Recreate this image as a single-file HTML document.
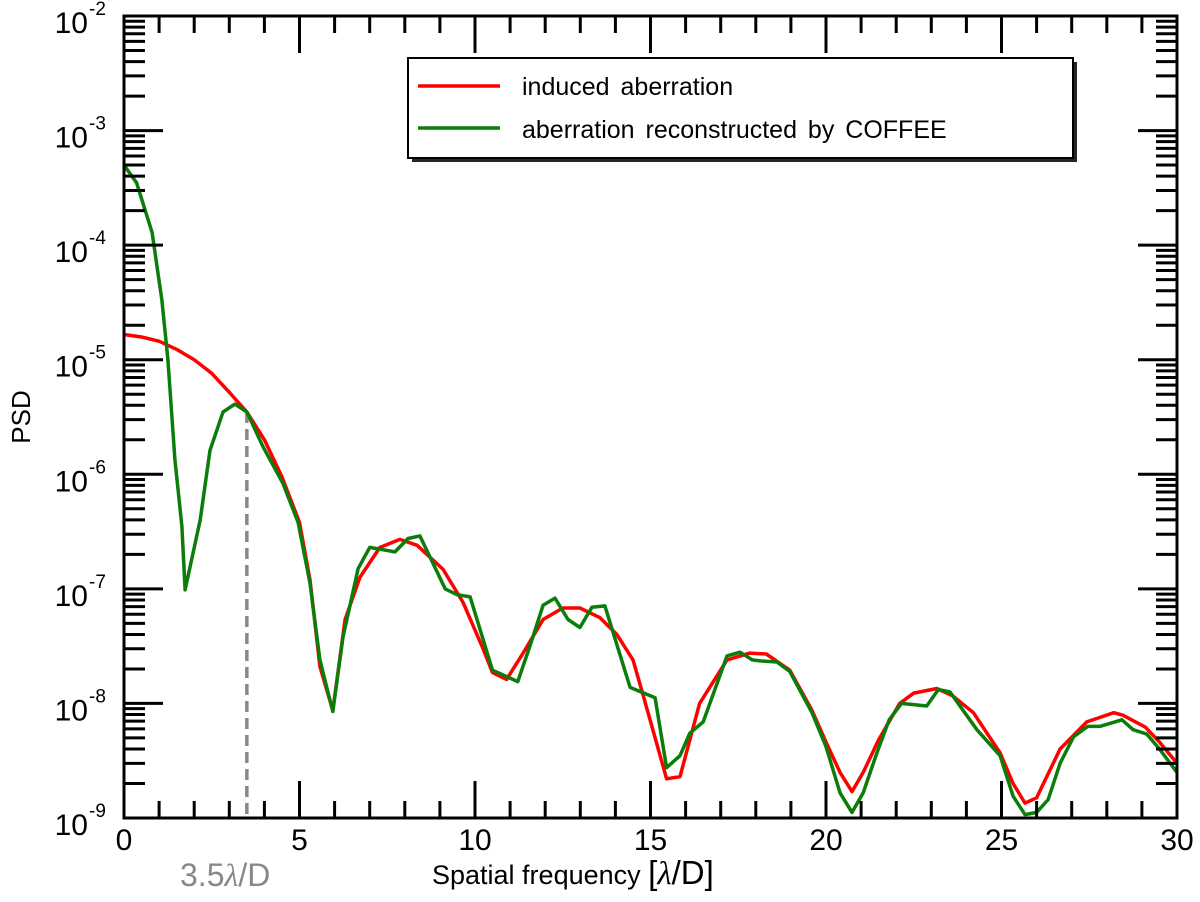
<!DOCTYPE html>
<html><head><meta charset="utf-8"><style>
html,body{margin:0;padding:0;background:#fff;}
svg{display:block;font-family:"Liberation Sans",sans-serif;}
</style></head><body>
<svg id="chart" width="1200" height="902" viewBox="0 0 1200 902" xmlns="http://www.w3.org/2000/svg">
<rect width="1200" height="902" fill="#fff"/>
<g id="marks"></g>
<g id="axes"></g>
<g id="legend">
  <rect x="412" y="62" width="665" height="100" fill="#000" opacity="0.85"/>
  <rect x="408" y="58" width="665" height="100" fill="#fff" stroke="#000" stroke-width="2"/>
  <line x1="418" y1="86" x2="500" y2="86" stroke="#ff0000" stroke-width="3.5"/>
  <text x="522" y="95" font-size="25" word-spacing="4">induced aberration</text>
  <line x1="418" y1="128" x2="500" y2="128" stroke="#0a7d0a" stroke-width="3.5"/>
  <text x="522" y="138" font-size="25" word-spacing="4">aberration reconstructed by COFFEE</text>
</g>
<text transform="translate(30,417) rotate(-90)" text-anchor="middle" font-size="26">PSD</text>
<text x="432" y="884" font-size="27">Spatial frequency <tspan font-size="33">[</tspan><tspan font-family="Liberation Serif, serif" font-style="italic" font-size="33">λ</tspan><tspan font-size="33">/D]</tspan></text>
<text x="180" y="886" font-size="32" fill="#888">3.5<tspan font-family="Liberation Serif, serif" font-style="italic">λ</tspan>/D</text>
</svg>
<script>
const redFreq = [0,0.5,1.0,1.5,2.0,2.5,3.0,3.5,4.0,4.5,5.0,5.3,5.58,5.95,6.3,6.72,7.29,7.86,8.35,9.09,9.66,10.23,10.5,10.9,11.37,11.94,12.5,12.99,13.56,14.04,14.5,14.8,15.46,15.84,16.4,17.18,17.83,18.3,18.97,19.6,20.0,20.4,20.74,21.06,21.5,22.1,22.5,23.16,23.6,24.2,24.96,25.33,25.67,26.0,26.67,27.43,28.2,28.46,29.1,29.5,30];
const redPsd = [1.66e-5,1.58e-5,1.45e-5,1.23e-5,1.0e-5,7.6e-6,5.2e-6,3.5e-6,2.0e-6,9.5e-7,3.8e-7,1.2e-7,2.1e-8,8.7e-9,5.4e-8,1.26e-7,2.3e-7,2.7e-7,2.4e-7,1.48e-7,7.6e-8,3.0e-8,1.86e-8,1.62e-8,2.75e-8,5.4e-8,6.8e-8,6.8e-8,5.6e-8,4.0e-8,2.4e-8,1.15e-8,2.2e-9,2.3e-9,1.0e-8,2.4e-8,2.75e-8,2.7e-8,1.95e-8,8.7e-9,4.6e-9,2.5e-9,1.7e-9,2.5e-9,4.8e-9,1.0e-8,1.23e-8,1.35e-8,1.17e-8,8.3e-9,3.7e-9,2.0e-9,1.35e-9,1.5e-9,4.0e-9,6.9e-9,8.3e-9,7.9e-9,6.2e-9,4.6e-9,3.0e-9];
const greenFreq = [0,0.36,0.8,1.08,1.25,1.45,1.65,1.74,2.17,2.45,2.82,3.16,3.5,3.96,4.53,4.96,5.3,5.58,5.95,6.24,6.67,7.0,7.72,8.09,8.43,9.15,9.49,9.86,10.5,11.22,11.57,11.94,12.28,12.65,12.99,13.33,13.7,14.42,15.13,15.46,15.84,16.12,16.5,17.18,17.55,17.9,18.12,18.6,18.97,19.6,20.0,20.4,20.74,21.06,21.45,21.8,22.15,22.87,23.2,23.53,24.3,24.96,25.33,25.67,26.0,26.33,26.67,27.05,27.46,27.8,28.43,28.75,29.14,29.5,30];
const greenPsd = [5.0e-4,3.5e-4,1.29e-4,3.3e-5,1.0e-5,1.35e-6,3.5e-7,9.8e-8,4.0e-7,1.62e-6,3.5e-6,4.1e-6,3.5e-6,1.74e-6,8.3e-7,3.8e-7,1.12e-7,2.4e-8,8.5e-9,3.8e-8,1.5e-7,2.3e-7,2.1e-7,2.75e-7,2.9e-7,1.0e-7,8.9e-8,8.5e-8,1.95e-8,1.55e-8,3.2e-8,7.2e-8,8.3e-8,5.4e-8,4.6e-8,6.9e-8,7.1e-8,1.38e-8,1.12e-8,2.75e-9,3.5e-9,5.5e-9,6.9e-9,2.6e-8,2.8e-8,2.4e-8,2.35e-8,2.3e-8,1.9e-8,8.3e-9,4.2e-9,1.66e-9,1.12e-9,1.66e-9,3.7e-9,7.2e-9,1.0e-8,9.5e-9,1.32e-8,1.26e-8,5.9e-9,3.5e-9,1.55e-9,1.07e-9,1.12e-9,1.45e-9,3.0e-9,5.1e-9,6.3e-9,6.3e-9,7.2e-9,5.9e-9,5.4e-9,4.0e-9,2.5e-9];
const xTicks = [0,5,10,15,20,25,30];
const yDecades = [-2,-3,-4,-5,-6,-7,-8,-9];
const cutoffFreq = [3.5];

const X0=124, X1=1177, Y0=818, Y1=16;
const xMin=0, xMax=30, yMinExp=-9, yMaxExp=-2;
function xs(v){return X0+(v-xMin)/(xMax-xMin)*(X1-X0);}
function ys(v){return Y0-(Math.log10(v)-yMinExp)/(yMaxExp-yMinExp)*(Y0-Y1);}
const NS="http://www.w3.org/2000/svg";
function mk(tag,attrs,parent){const e=document.createElementNS(NS,tag);for(const k in attrs)e.setAttribute(k,attrs[k]);parent.appendChild(e);return e;}
const marks=document.getElementById('marks'), axes=document.getElementById('axes');

function clipY(y){return Math.min(Y0,Math.max(Y1,y));}
cutoffFreq.forEach(f=>{
  let yv=0; for(let i=0;i<redFreq.length-1;i++){if(f>=redFreq[i]&&f<=redFreq[i+1]){const t=(f-redFreq[i])/(redFreq[i+1]-redFreq[i]);yv=ys(redPsd[i])*(1-t)+ys(redPsd[i+1])*t;}}
  const l=mk('line',{x1:xs(f),x2:xs(f),y1:yv,y2:Y0,stroke:'#888','stroke-width':3.5,'stroke-dasharray':'11,6'},marks);
  
  
});
function series(fx,fy,color,name){
  const pts=fx.map((f,i)=>xs(f).toFixed(1)+','+clipY(ys(fy[i])).toFixed(1)).join(' ');
  const p=mk('polyline',{points:pts,fill:'none',stroke:color,'stroke-width':3.5,'stroke-linejoin':'round'},marks);
  
  
}
series(redFreq,redPsd,'#ff0000','induced-aberration-line');
series(greenFreq,greenPsd,'#0a7d0a','coffee-reconstruction-line');

const fr=mk('rect',{x:X0,y:Y1,width:X1-X0,height:Y0-Y1,fill:'none',stroke:'#000','stroke-width':3},axes);


for(let v=xMin; v<=xMax; v++){
  const major=(v%5===0), L=major?37:17, x=xs(v);
  mk('line',{x1:x,x2:x,y1:Y0,y2:Y0-L,stroke:'#000','stroke-width':3},axes);
  mk('line',{x1:x,x2:x,y1:Y1,y2:Y1+L,stroke:'#000','stroke-width':3},axes);
}
xTicks.forEach(v=>{
  const t=mk('text',{x:xs(v),y:850,'text-anchor':'middle','font-size':30},axes);
  t.textContent=String(v);
  
  
});
yDecades.forEach(e=>{
  const y=ys(Math.pow(10,e));
  mk('line',{x1:X0,x2:X0+39,y1:y,y2:y,stroke:'#000','stroke-width':3},axes);
  mk('line',{x1:X1,x2:X1-39,y1:y,y2:y,stroke:'#000','stroke-width':3},axes);
  if(e>yMinExp){for(let m=2;m<=9;m++){const yy=ys(m*Math.pow(10,e-1));
    mk('line',{x1:X0,x2:X0+21,y1:yy,y2:yy,stroke:'#000','stroke-width':3},axes);
    mk('line',{x1:X1,x2:X1-21,y1:yy,y2:yy,stroke:'#000','stroke-width':3},axes);}}
  const t=mk('text',{x:88,y:y+17,'text-anchor':'end','font-size':30},axes);
  t.textContent='10';
  
  
  const s=mk('text',{x:89,y:y-1,'font-size':19},axes);
  s.textContent=String(e);
  
  
});
</script>
</body></html>
